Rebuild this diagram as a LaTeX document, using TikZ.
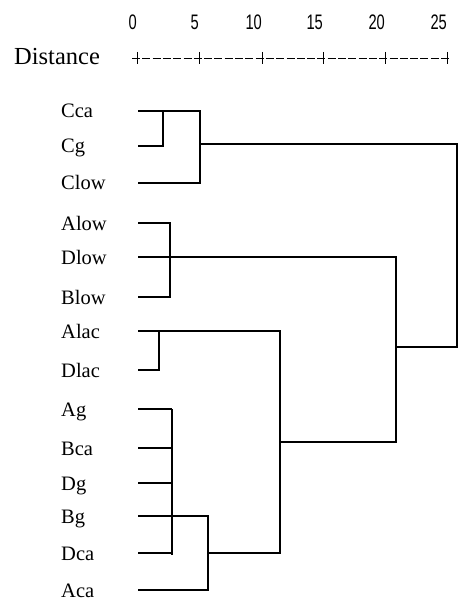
\documentclass[tikz,border=0pt]{standalone}
\usepackage{fontspec}
\setmainfont{Liberation Serif}
\newfontfamily\numfont{Liberation Sans}
\begin{document}
\begin{tikzpicture}[x=1pt,y=-1pt,
  leaf/.style={anchor=base west, inner sep=0pt, font=\fontsize{20.5}{20.5}\selectfont},
  num/.style={anchor=base east, inner sep=0pt, xscale=0.7, font=\numfont\fontsize{21}{21}\selectfont},
  title/.style={anchor=base west, inner sep=0pt, font=\fontsize{24.5}{24.5}\selectfont},
  link/.style={line width=1.1pt, line join=miter},
  axis/.style={line width=0.9pt}]
\useasboundingbox (0,0) rectangle (459,601);
% axis
\node[title] (dist) at (14,65) {Distance};
\foreach \t/\x in {0/137,5/199,10/262,15/323,20/385,25/447}{
  \node[num] (n\t) at (\x,30) {\t};
  \draw[axis] (\x,52) -- (\x,64);
}
\coordinate (ax0) at (132,58);
\coordinate (ax1) at (451,58);
\draw[axis, dash pattern=on 8pt off 2.3pt] (ax0) -- (ax1);
% leaves
\foreach \n/\y in {Cca/111,Cg/146,Clow/183,Alow/223,Dlow/257,Blow/297,Alac/331,Dlac/370,Ag/409,Bca/448,Dg/483,Bg/516,Dca/553,Aca/590}{
  \node[leaf] (\n) at (61,\y+7) {\n};
  \coordinate (\n-s) at (138,\y);
}
% join positions
\coordinate (jCg) at (163,0);
\coordinate (jC) at (200,0);
\coordinate (jAlow) at (170,0);
\coordinate (jAlac) at (159,0);
\coordinate (jAg) at (172,0);
\coordinate (jBg) at (208,0);
\coordinate (jAD) at (280,0);
\coordinate (jX) at (396,0);
\coordinate (jR) at (457,0);
\coordinate (mC) at (200,144);
\coordinate (mR) at (457,347);
\coordinate (mX) at (396,442);
\coordinate (mBg) at (208,553);
% C cluster
\draw[link] (Cg-s) -| (jCg |- Cca-s);
\draw[link] (Cca-s) -| (jC |- Clow-s) -- (Clow-s);
\draw[link] (mC) -| (mR) -- (jX |- mR);
% low cluster
\draw[link] (Alow-s) -| (jAlow |- Blow-s) -- (Blow-s);
\draw[link] (Dlow-s) -| (mX) -- (jAD |- mX);
% lac cluster
\draw[link] (Dlac-s) -| (jAlac |- Alac-s);
\draw[link] (Alac-s) -| (jAD |- Dca-s) -- (mBg);
% g / ca cluster
\draw[link] (Ag-s) -- (jAg |- Ag-s);
\draw[link] (Bca-s) -- (jAg |- Bca-s);
\draw[link] (Dg-s) -- (jAg |- Dg-s);
\draw[link] (Dca-s) -- (jAg |- Dca-s);
\draw[link] (jAg |- Ag-s) -- ([yshift=-2pt]jAg |- Dca-s);
\draw[link] (Bg-s) -| (jBg |- Aca-s) -- (Aca-s);
\end{tikzpicture}
\end{document}
